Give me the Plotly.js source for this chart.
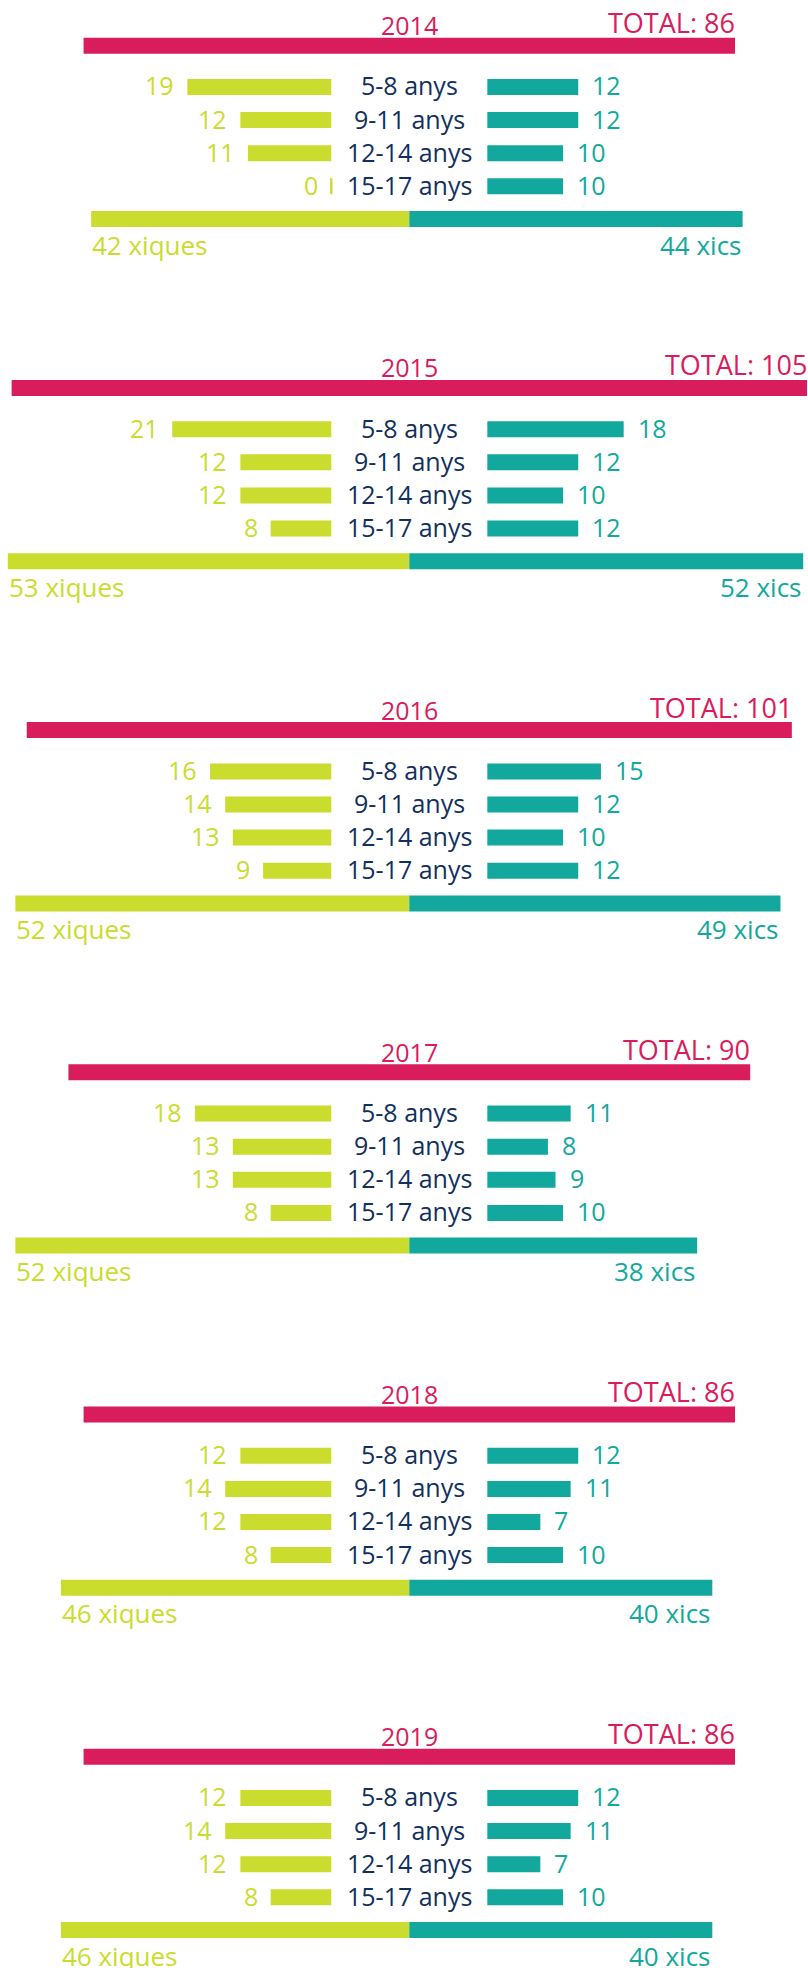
<!DOCTYPE html>
<html>
<head>
<meta charset="utf-8">
<script src="https://cdn.plot.ly/plotly-3.0.1.min.js"></script>
<style>
  html, body { margin: 0; padding: 0; background: #ffffff; }
  #chart { width: 808px; height: 1968px; }
</style>
</head>
<body>
<div id="chart"></div>
<script>
// ---------- data ----------
const years = ['2014', '2015', '2016', '2017', '2018', '2019'];
const ageGroups = ['5-8 anys', '9-11 anys', '12-14 anys', '15-17 anys'];
// girls (xiques) per age group, one row per year
const girls2014 = [19, 12, 11, 0];
const girls2015 = [21, 12, 12, 8];
const girls2016 = [16, 14, 13, 9];
const girls2017 = [18, 13, 13, 8];
const girls2018 = [12, 14, 12, 8];
const girls2019 = [12, 14, 12, 8];
// boys (xics) per age group
const boys2014 = [12, 12, 10, 10];
const boys2015 = [18, 12, 10, 12];
const boys2016 = [15, 12, 10, 12];
const boys2017 = [11, 8, 9, 10];
const boys2018 = [12, 11, 7, 10];
const boys2019 = [12, 11, 7, 10];
// totals
const girlsTotals = [42, 53, 52, 52, 46, 46];
const boysTotals = [44, 52, 49, 38, 40, 40];
const totals = [86, 105, 101, 90, 86, 86];

const girlsByYear = [girls2014, girls2015, girls2016, girls2017, girls2018, girls2019];
const boysByYear = [boys2014, boys2015, boys2016, boys2017, boys2018, boys2019];

// ---------- style / layout constants ----------
const RED = '#D91C5C', LIME = '#CADC2E', TEAL = '#12A89D', NAVY = '#11305E';
const FONT = '"Open Sans", "Noto Sans", sans-serif';
const W = 808, H = 1968;
const centerPx = 409.3, pxPerUnit = 7.575;
const gap = 10.3;               // half-gap (in value units) around the age label
const panelStep = 342.2;
const yYear = 25.2, yTotal = 22.6, yRed = 45.7, yRow0 = 87, rowStep = 33.1, rowTextDy = -1.6,
      yBottom = 219, yBottomLbl = 244.6;
const barH = 16;

const traces = [];
const annotations = [];

// red total bars
traces.push({
  type: 'bar', orientation: 'h',
  y: years.map((_, p) => p * panelStep + yRed),
  x: totals, base: totals.map(t => -t / 2),
  width: barH, marker: { color: RED, line: { width: 0 } },
  hoverinfo: 'skip'
});

// age group bars
const gY = [], gX = [], gLW = [], bY = [], bX = [];
years.forEach((yr, p) => {
  ageGroups.forEach((ag, i) => {
    const yc = p * panelStep + yRow0 + i * rowStep;
    const gv = girlsByYear[p][i], bv = boysByYear[p][i];
    gY.push(yc); gX.push(-gv); gLW.push(gv === 0 ? 2.4 : 0);
    bY.push(yc); bX.push(bv);
    annotations.push({ x: 0, y: yc + rowTextDy, text: ag, xanchor: 'center', yanchor: 'middle',
      font: { family: FONT, size: 25, color: NAVY } });
    annotations.push({ x: -gap - gv, y: yc + rowTextDy, text: String(gv), xanchor: 'right', yanchor: 'middle',
      xshift: -11, font: { family: FONT, size: 25, color: LIME } });
    annotations.push({ x: gap + bv, y: yc + rowTextDy, text: String(bv), xanchor: 'left', yanchor: 'middle',
      xshift: 12, font: { family: FONT, size: 25, color: TEAL } });
  });
  const py = p * panelStep;
  annotations.push({ x: 0, y: py + yYear, text: yr, xanchor: 'center', yanchor: 'middle',
    font: { family: FONT, size: 25, color: RED } });
  annotations.push({ x: totals[p] / 2, y: py + yTotal, text: 'TOTAL: ' + totals[p], xanchor: 'right', yanchor: 'middle',
    xshift: 2, font: { family: FONT, size: 27, color: RED } });
  annotations.push({ x: -girlsTotals[p], y: py + yBottomLbl, text: girlsTotals[p] + ' xiques', xanchor: 'left', yanchor: 'middle',
    xshift: -1, font: { family: FONT, size: 26, color: LIME } });
  annotations.push({ x: boysTotals[p], y: py + yBottomLbl, text: boysTotals[p] + ' xics', xanchor: 'right', yanchor: 'middle',
    xshift: 1, font: { family: FONT, size: 26, color: TEAL } });
});
traces.push({
  type: 'bar', orientation: 'h', y: gY, x: gX, base: -gap,
  width: barH, marker: { color: LIME, line: { color: LIME, width: gLW } }, hoverinfo: 'skip'
});
traces.push({
  type: 'bar', orientation: 'h', y: bY, x: bX, base: gap,
  width: barH, marker: { color: TEAL, line: { width: 0 } }, hoverinfo: 'skip'
});

// bottom split bars
traces.push({
  type: 'bar', orientation: 'h',
  y: years.map((_, p) => p * panelStep + yBottom),
  x: girlsTotals.map(v => -v), base: 0,
  width: barH, marker: { color: LIME, line: { width: 0 } }, hoverinfo: 'skip'
});
traces.push({
  type: 'bar', orientation: 'h',
  y: years.map((_, p) => p * panelStep + yBottom),
  x: boysTotals, base: 0,
  width: barH, marker: { color: TEAL, line: { width: 0 } }, hoverinfo: 'skip'
});

const layout = {
  width: W, height: H,
  margin: { l: 0, r: 0, t: 0, b: 0, pad: 0 },
  paper_bgcolor: '#ffffff', plot_bgcolor: '#ffffff',
  showlegend: false,
  barmode: 'overlay',
  xaxis: { range: [-centerPx / pxPerUnit, (W - centerPx) / pxPerUnit], visible: false, fixedrange: true },
  yaxis: { range: [H, 0], visible: false, fixedrange: true },
  annotations: annotations.map(a => Object.assign({ xref: 'x', yref: 'y', showarrow: false }, a))
};

Plotly.newPlot('chart', traces, layout, { staticPlot: true, displayModeBar: false });
</script>
</body>
</html>
